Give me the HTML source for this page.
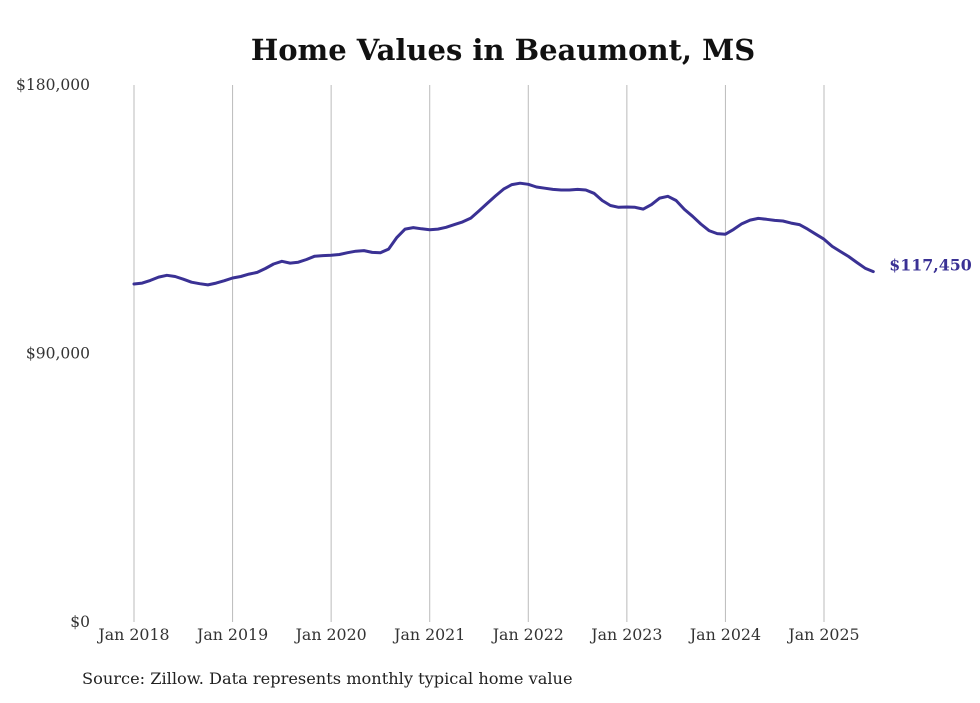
<!DOCTYPE html>
<html><head><meta charset="utf-8"><style>
body{margin:0;background:#fff;width:980px;height:699px;overflow:hidden;font-family:"DejaVu Serif",serif}
</style></head><body>
<svg id="chart" width="980" height="699" xmlns="http://www.w3.org/2000/svg" font-family="DejaVu Serif, serif">
<text x="503" y="60" text-anchor="middle" font-weight="bold" font-size="29" fill="#111">Home Values in Beaumont, MS</text>
<g id="grid"></g><g id="yt"></g><g id="xt"></g><g id="series"></g>
<text x="82" y="684" font-size="16.2" fill="#222">Source: Zillow. Data represents monthly typical home value</text>
</svg>
<script>
const yTicks=[0,90000,180000];
const yTickLabels=["$0","$90,000","$180,000"];
const xYears=[2018,2019,2020,2021,2022,2023,2024,2025];
const xLabels=["Jan 2018","Jan 2019","Jan 2020","Jan 2021","Jan 2022","Jan 2023","Jan 2024","Jan 2025"];
const values=[113.3,113.6,114.5,115.6,116.2,115.8,114.9,113.9,113.4,113.0,113.6,114.4,
115.3,115.8,116.6,117.2,118.5,120.0,120.9,120.3,120.6,121.5,122.6,122.8,
122.9,123.2,123.8,124.3,124.5,123.9,123.8,125.0,128.9,131.7,132.2,131.8,
131.5,131.7,132.3,133.2,134.1,135.4,137.8,140.3,142.8,145.1,146.6,147.1,
146.7,145.8,145.4,145.0,144.8,144.8,145.0,144.8,143.7,141.3,139.6,139.0,
139.1,139.0,138.4,139.9,142.1,142.7,141.3,138.3,136.0,133.4,131.2,130.2,
130.0,131.6,133.5,134.7,135.3,135.0,134.6,134.4,133.7,133.2,131.7,130.0,
128.3,125.9,124.2,122.5,120.5,118.6,117.45];
const lastLabel="$117,450";
const NS="http://www.w3.org/2000/svg";
const x=m=>134+m*(690/84);
const y=v=>622-v/180000*537;
const grid=document.getElementById('grid'),yt=document.getElementById('yt'),xt=document.getElementById('xt'),ser=document.getElementById('series');
function mk(tag,at,parent){const e=document.createElementNS(NS,tag);for(const k in at)e.setAttribute(k,at[k]);parent.appendChild(e);return e;}
xYears.forEach((yr,i)=>{const px=x((yr-2018)*12);
const l=mk('line',{x1:px,x2:px,y1:85,y2:622,stroke:'#bbb','stroke-width':1},grid);


const t=mk('text',{x:px,y:640,'text-anchor':'middle','font-size':15.8,fill:'#333'},xt);t.textContent=xLabels[i];

});
yTicks.forEach((v,i)=>{const t=mk('text',{x:90,y:y(v)+5,'text-anchor':'end','font-size':15.5,fill:'#333'},yt);t.textContent=yTickLabels[i];

});
const d=values.map((v,i)=>(i?'L':'M')+x(i).toFixed(1)+' '+y(v*1000).toFixed(1)).join(' ');
const p=mk('path',{d:d,fill:'none',stroke:'#3a3194','stroke-width':3,'stroke-linejoin':'round','stroke-linecap':'round'},ser);


const n=values.length-1;
const lt=mk('text',{x:x(n)+16,y:y(values[n]*1000)-1,'font-size':15.8,'font-weight':'bold',fill:'#3a3194'},ser);lt.textContent=lastLabel;


</script>
</body></html>
